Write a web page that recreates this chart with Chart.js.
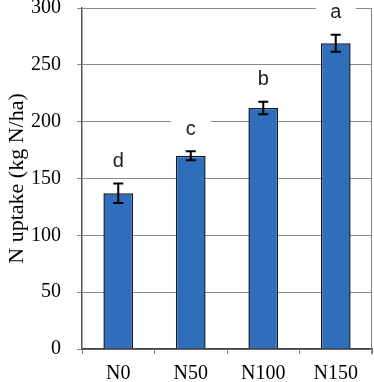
<!DOCTYPE html>
<html>
<head>
<meta charset="utf-8">
<script src="https://cdn.jsdelivr.net/npm/chart.js@4/dist/chart.umd.min.js"></script>
<style>
html,body{margin:0;padding:0;background:#fff;overflow:hidden;width:374px;height:382px;}
#wrap{position:absolute;left:0;top:-20px;width:374px;height:414px;}
</style>
</head>
<body>
<div id="wrap"><canvas id="c"></canvas></div>
<script>
const categories = ['N0', 'N50', 'N100', 'N150'];
const uptake = [137, 170, 212, 269];
const errors = [8.5, 4, 5.5, 7.5];
const letters = ['d', 'c', 'b', 'a'];
const yTicks = [0, 50, 100, 150, 200, 250, 300];

const errorBars = {
  id: 'errorBars',
  afterDatasetsDraw(chart) {
    const ctx = chart.ctx;
    const meta = chart.getDatasetMeta(0);
    const ys = chart.scales.y;
    ctx.save();
    ctx.strokeStyle = '#000';
    ctx.lineWidth = 2;
    meta.data.forEach((bar, i) => {
      const x = bar.x;
      const top = ys.getPixelForValue(uptake[i] + errors[i]);
      const bot = ys.getPixelForValue(uptake[i] - errors[i]);
      ctx.beginPath();
      ctx.moveTo(x, top); ctx.lineTo(x, bot);
      ctx.moveTo(x - 5, top); ctx.lineTo(x + 5, top);
      ctx.moveTo(x - 5, bot); ctx.lineTo(x + 5, bot);
      ctx.stroke();
      const ly = top - 22;
      ctx.fillStyle = '#fff';
      ctx.fillRect(x - 20, ly - 11, 40, 22);
      ctx.fillStyle = '#222';
      ctx.font = '20px "Liberation Sans", Arial, sans-serif';
      ctx.textAlign = 'center';
      ctx.textBaseline = 'middle';
      ctx.fillText(letters[i], x, ly);
    });
    ctx.restore();
  },
  afterDraw(chart) {
    const ctx = chart.ctx, a = chart.chartArea;
    ctx.save();
    ctx.strokeStyle = '#808080';
    ctx.lineWidth = 1;
    ctx.beginPath();
    ctx.moveTo(a.right - 0.5, a.top);
    ctx.lineTo(a.right - 0.5, a.bottom + 5);
    ctx.stroke();
    ctx.restore();
  }
};

new Chart(document.getElementById('c'), {
  type: 'bar',
  data: {
    labels: categories,
    datasets: [{
      data: uptake,
      backgroundColor: '#2F6EBA',
      borderColor: '#0B1A30',
      borderWidth: 1.5,
      barPercentage: 0.41,
      categoryPercentage: 1.0
    }]
  },
  options: {
    responsive: true,
    maintainAspectRatio: false,
    animation: false,
    devicePixelRatio: 1,
    layout: { padding: { left: 0, right: 2, top: 0, bottom: 0 } },
    plugins: { legend: { display: false }, tooltip: { enabled: false } },
    scales: {
      x: {
        grid: { offset: true, drawOnChartArea: false, drawTicks: true, tickLength: 5, color: '#808080' },
        border: { color: '#404040', width: 1.5 },
        ticks: { color: '#000', padding: 8, font: { family: '"Liberation Serif", "Times New Roman", serif', size: 20 } }
      },
      y: {
        min: 0, max: 300,
        afterBuildTicks(scale) { scale.ticks = yTicks.map(v => ({ value: v })); },
        afterFit(scale) { scale.width = 82; },
        grid: { color: '#8a8a8a', lineWidth: 1, tickLength: 5 },
        border: { color: '#555', width: 1.5 },
        ticks: { color: '#000', padding: 16, font: { family: '"Liberation Serif", "Times New Roman", serif', size: 20 } },
        title: { display: true, text: 'N uptake (kg N/ha)', color: '#000', padding: { top: 4, bottom: 0 },
                 font: { family: '"Liberation Serif", "Times New Roman", serif', size: 22 } }
      }
    }
  },
  plugins: [errorBars]
});
</script>
</body>
</html>
